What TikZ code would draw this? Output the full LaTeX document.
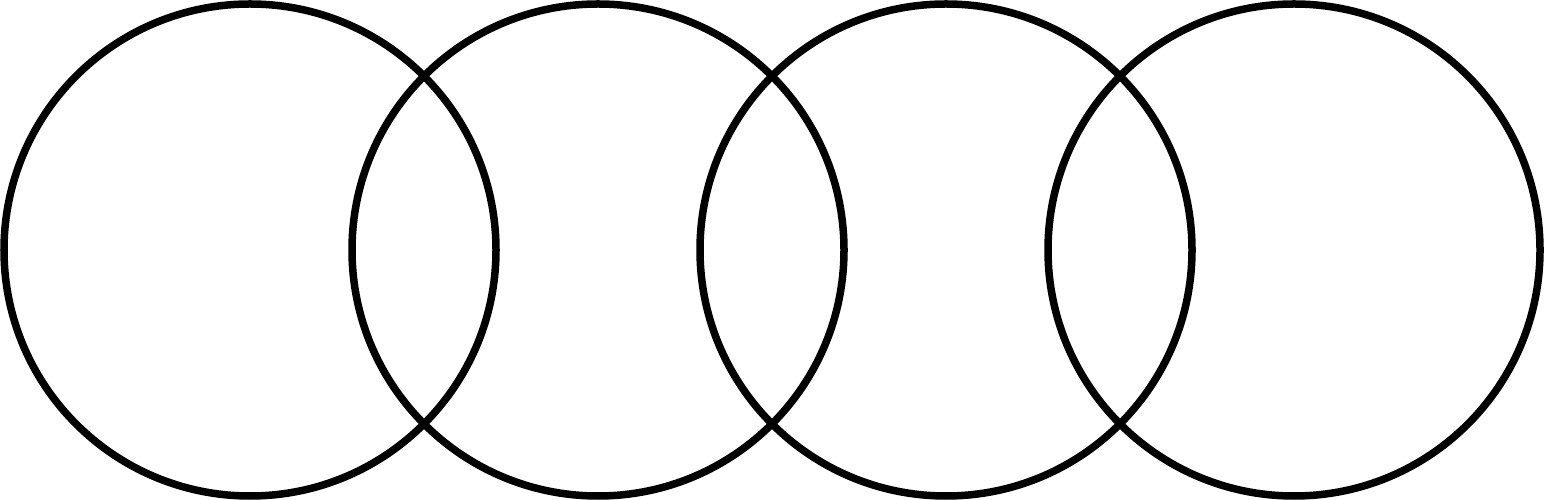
\documentclass[tikz,border=0pt]{standalone}
\begin{document}
\begin{tikzpicture}[x=0.01cm,y=0.01cm,ring/.style={draw=black,line width=0.075cm}]
\useasboundingbox (0,0) rectangle (1545,500);
\foreach \cx/\n in {250/a,598/b,946/c,1294/d}{
  \draw[ring] (\cx,250) circle[radius=246];
}
\end{tikzpicture}
\end{document}
